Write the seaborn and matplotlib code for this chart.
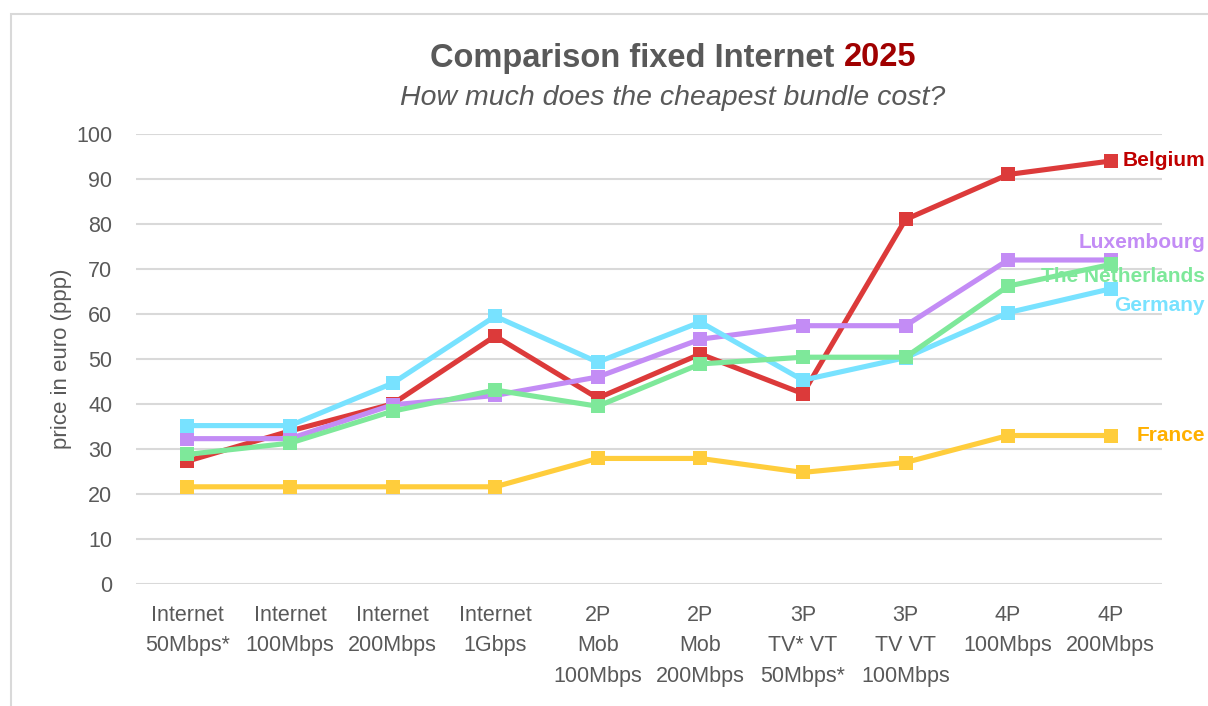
import pandas as pd
import matplotlib.pyplot as plt
import matplotlib.transforms as mtransforms
from matplotlib.patches import Rectangle
import seaborn as sns

# Chart data (price in euro, ppp)
categories = [
    "Internet\n50Mbps*", "Internet\n100Mbps", "Internet\n200Mbps", "Internet\n1Gbps",
    "2P\nMob\n100Mbps", "2P\nMob\n200Mbps", "3P\nTV* VT\n50Mbps*", "3P\nTV VT\n100Mbps",
    "4P\n100Mbps", "4P\n200Mbps",
]
belgium = [27.3, 34.0, 40.0, 55.1, 41.3, 51.1, 42.3, 81.0, 91.0, 94.0]
luxembourg = [32.3, 32.3, 39.8, 41.9, 46.0, 54.4, 57.4, 57.4, 72.0, 72.0]
germany = [35.2, 35.2, 44.6, 59.5, 49.3, 58.2, 45.3, 50.3, 60.3, 65.6]
netherlands = [28.8, 31.3, 38.4, 43.1, 39.5, 48.9, 50.4, 50.4, 66.2, 71.0]
france = [21.6, 21.6, 21.6, 21.6, 27.9, 27.9, 24.8, 27.0, 33.0, 33.0]

series = {
    "Belgium": belgium,
    "Luxembourg": luxembourg,
    "Germany": germany,
    "The Netherlands": netherlands,
    "France": france,
}
line_colors = {
    "Belgium": "#DC3A3A",
    "Luxembourg": "#C38CF5",
    "Germany": "#78E2FF",
    "The Netherlands": "#7EE89A",
    "France": "#FFCD3C",
}
label_colors = {
    "Belgium": "#C00000",
    "Luxembourg": "#C38CF5",
    "Germany": "#78E2FF",
    "The Netherlands": "#7EE89A",
    "France": "#FFB000",
}
# vertical nudges for the end labels so they don't collide
label_nudge = {"Belgium": 0, "Luxembourg": 3.8, "Germany": -3.8,
               "The Netherlands": -2.6, "France": 0}

rows = []
for name, vals in series.items():
    for i, v in enumerate(vals):
        rows.append({"country": name, "x": i, "price": v})
df = pd.DataFrame(rows)

sns.set_style("white")
plt.rcParams["font.family"] = ["Liberation Sans", "DejaVu Sans"]

W, H = 1208, 706
fig = plt.figure(figsize=(W / 100, H / 100), dpi=100, facecolor="white")
ax = fig.add_axes([136 / W, 1 - 584 / H, (1162 - 136) / W, (584 - 134) / H])

sns.lineplot(data=df, x="x", y="price", hue="country", hue_order=list(series),
             palette=line_colors, marker="s", markersize=10, markeredgewidth=0,
             linewidth=3.7, ax=ax, legend=False)

ax.set_xlim(-0.5, len(categories) - 0.5)
ax.set_ylim(0, 100)
ax.set_yticks(range(0, 101, 10))
ax.set_xticks(range(len(categories)))
ax.set_xticklabels(categories, linespacing=1.6)
ax.tick_params(axis="both", length=0, labelsize=15.5, labelcolor="#595959")
ax.tick_params(axis="y", pad=17)
ax.tick_params(axis="x", pad=15)
ax.set_xlabel("")
ax.set_ylabel("price in euro (ppp)", fontsize=16, color="#595959", labelpad=3)
ax.grid(axis="y", color="#D9D9D9", linewidth=1.5)
ax.set_axisbelow(True)
sns.despine(ax=ax, left=True, bottom=True)

# end-of-line country labels
trans = mtransforms.blended_transform_factory(fig.transFigure, ax.transData)
for name, vals in series.items():
    ax.text(1205 / W, vals[-1] + label_nudge[name], name, transform=trans,
            ha="right", va="center", fontsize=15, fontweight="bold",
            color=label_colors[name], clip_on=False)

# two-coloured title, centred as a whole
t1 = fig.text(0, 1 - 58 / H, "Comparison fixed Internet ", fontsize=23.5,
              fontweight="bold", color="#595959", va="center", ha="left")
t2 = fig.text(0, 1 - 58 / H, "2025", fontsize=23.5, fontweight="bold",
              color="#A00000", va="center", ha="left")
r = fig.canvas.get_renderer()
w1 = t1.get_window_extent(r).width
w2 = t2.get_window_extent(r).width
start = 673 - (w1 + w2) / 2
t1.set_x(start / W)
t2.set_x((start + w1) / W)

fig.text(673 / W, 1 - 98 / H, "How much does the cheapest bundle cost?",
         fontsize=20.5, style="italic", color="#595959", ha="center", va="center")

# chart-area border
fig.add_artist(Rectangle((11 / W, -0.05), 1.0, (H - 14) / H + 0.05,
                         transform=fig.transFigure, fill=False,
                         edgecolor="#D9D9D9", linewidth=1.5))

plt.savefig("out.png", dpi=100)
